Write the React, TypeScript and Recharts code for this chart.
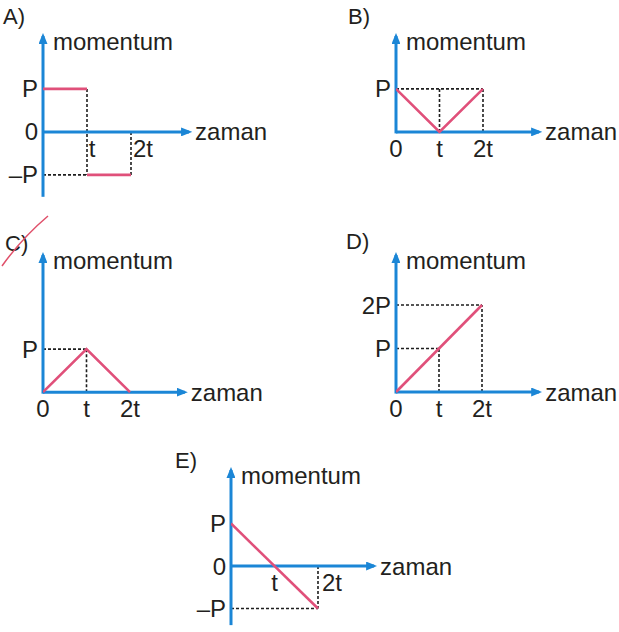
import React from "react";
import { LineChart, Line, XAxis, YAxis, ReferenceLine, ReferenceDot } from "recharts";

type Pt = { x: number; y: number | null };
type Tick = { v: number; label: string; dx?: number };
type Guide = [number, number, number, number];

// time in units of t, momentum in units of P
const seriesA: Pt[] = [{ x: 0, y: 1 }, { x: 1, y: 1 }, { x: 1, y: null }, { x: 1, y: -1 }, { x: 2, y: -1 }];
const seriesB: Pt[] = [{ x: 0, y: 1 }, { x: 1, y: 0 }, { x: 2, y: 1 }];
const seriesC: Pt[] = [{ x: 0, y: 0 }, { x: 1, y: 1 }, { x: 2, y: 0 }];
const seriesD: Pt[] = [{ x: 0, y: 0 }, { x: 1, y: 1 }, { x: 2, y: 2 }];
const seriesE: Pt[] = [{ x: 0, y: 1 }, { x: 2, y: -1 }];

const yTicksA: Tick[] = [{ v: 1, label: "P" }, { v: 0, label: "0" }, { v: -1, label: "–P" }];
const yTicksB: Tick[] = [{ v: 1, label: "P" }];
const yTicksC: Tick[] = [{ v: 1, label: "P" }];
const yTicksD: Tick[] = [{ v: 2, label: "2P" }, { v: 1, label: "P" }];
const yTicksE: Tick[] = [{ v: 1, label: "P" }, { v: 0, label: "0" }, { v: -1, label: "–P" }];

const xTicksA: Tick[] = [{ v: 1, label: "t", dx: 5 }, { v: 2, label: "2t", dx: 12 }];
const xTicksB: Tick[] = [{ v: 0, label: "0" }, { v: 1, label: "t" }, { v: 2, label: "2t" }];
const xTicksC: Tick[] = [{ v: 0, label: "0" }, { v: 1, label: "t" }, { v: 2, label: "2t" }];
const xTicksD: Tick[] = [{ v: 0, label: "0" }, { v: 1, label: "t" }, { v: 2, label: "2t" }];
const xTicksE: Tick[] = [{ v: 1, label: "t" }, { v: 2, label: "2t", dx: 14 }];

// dashed helper lines: [x1, y1, x2, y2]
const guidesA: Guide[] = [[1, 1, 1, -1], [2, 0, 2, -1], [0, -1, 1, -1]];
const guidesB: Guide[] = [[0, 1, 2, 1], [1, 0, 1, 1], [2, 0, 2, 1]];
const guidesC: Guide[] = [[0, 1, 1, 1], [1, 0, 1, 1]];
const guidesD: Guide[] = [[0, 2, 2, 2], [0, 1, 1, 1], [1, 0, 1, 1], [2, 0, 2, 2]];
const guidesE: Guide[] = [[2, 0, 2, -1], [0, -1, 2, -1]];

const BLUE = "#1b86d6";
const RED = "#e0507a";
const INK = "#231f20";
const FONT = "'Liberation Sans', Arial, sans-serif";
const PAD = { top: 20, right: 90, bottom: 32, left: 50 };

type Box = { ox: number; oy: number; ux: number; uy: number; xMax: number; yMin: number; yMax: number; nx: number; ny: number };

const textStyle = { fontSize: 24, fill: INK, fontFamily: FONT };

function Panel(props: { id: string; name: string; data: Pt[]; xTicks: Tick[]; yTicks: Tick[]; guides: Guide[]; box: Box }) {
  const { id, name, data, xTicks, yTicks, guides, box } = props;
  const plotW = box.xMax * box.ux;
  const plotH = (box.yMax - box.yMin) * box.uy;
  const left = box.ox - PAD.left;
  const top = box.oy - box.yMax * box.uy - PAD.top;
  const axisShape = (p: any) => (
    <line x1={p.x1} y1={p.y1} x2={p.x2} y2={p.y2} stroke={BLUE} strokeWidth={3} markerEnd={`url(#arrow-${id})`} />
  );
  return (
    <>
      <div style={{ position: "absolute", left: box.nx, top: box.ny, fontSize: 22, lineHeight: "22px", color: INK }}>{name}</div>
      <div style={{ position: "absolute", left, top }}>
        <LineChart width={PAD.left + plotW + PAD.right} height={PAD.top + plotH + PAD.bottom} data={data} margin={PAD}>
          <defs>
            <marker id={`arrow-${id}`} viewBox="0 0 11 9" markerUnits="userSpaceOnUse" markerWidth={11} markerHeight={9} refX={8} refY={4.5} orient="auto">
              <path d="M0,0 L11,4.5 L0,9 z" fill={BLUE} />
            </marker>
          </defs>
          <XAxis type="number" dataKey="x" domain={[0, box.xMax]} hide allowDataOverflow />
          <YAxis type="number" domain={[box.yMin, box.yMax]} hide allowDataOverflow />
          {guides.map((g, i) => (
            <ReferenceLine
              key={`g${i}`}
              segment={[{ x: g[0], y: g[1] }, { x: g[2], y: g[3] }]}
              stroke="#1e1e1e"
              strokeWidth={1.6}
              strokeDasharray="3 2"
              ifOverflow="visible"
            />
          ))}
          <ReferenceLine segment={[{ x: 0, y: box.yMin }, { x: 0, y: box.yMax }]} shape={axisShape} ifOverflow="visible" />
          <ReferenceLine segment={[{ x: 0, y: 0 }, { x: box.xMax, y: 0 }]} shape={axisShape} ifOverflow="visible" />
          <Line type="linear" dataKey="y" stroke={RED} strokeWidth={2.6} dot={false} connectNulls={false} isAnimationActive={false} />
          {yTicks.map((t) => (
            <ReferenceDot key={`y${t.v}`} x={0} y={t.v} r={0} fill="none" stroke="none" ifOverflow="visible"
              label={{ value: t.label, position: "left", offset: 5, ...textStyle }} />
          ))}
          {xTicks.map((t) => (
            <ReferenceDot key={`x${t.v}`} x={t.v} y={0} r={0} fill="none" stroke="none" ifOverflow="visible"
              label={{ value: t.label, position: "bottom", offset: 8, dx: t.dx ?? 0, ...textStyle }} />
          ))}
          <ReferenceDot x={0} y={box.yMax} r={0} fill="none" stroke="none" ifOverflow="visible"
            label={{ value: "momentum", position: "right", offset: 10, dy: 5, ...textStyle }} />
          <ReferenceDot x={box.xMax} y={0} r={0} fill="none" stroke="none" ifOverflow="visible"
            label={{ value: "zaman", position: "right", offset: 6, ...textStyle }} />
        </LineChart>
      </div>
    </>
  );
}

export default function App() {
  return (
    <div style={{ position: "absolute", left: 0, top: 0, width: 619, height: 632, background: "#fff", overflow: "hidden", fontFamily: FONT }}>
      <Panel id="a" name="A)" data={seriesA} xTicks={xTicksA} yTicks={yTicksA} guides={guidesA}
        box={{ ox: 43, oy: 132, ux: 44, uy: 43, xMax: 3.32, yMin: -1.51, yMax: 2.23, nx: 3, ny: 6 }} />
      <Panel id="b" name="B)" data={seriesB} xTicks={xTicksB} yTicks={yTicksB} guides={guidesB}
        box={{ ox: 396, oy: 132, ux: 43.5, uy: 43, xMax: 3.29, yMin: -0.035, yMax: 2.23, nx: 348, ny: 6 }} />
      <Panel id="c" name="C)" data={seriesC} xTicks={xTicksC} yTicks={yTicksC} guides={guidesC}
        box={{ ox: 43, oy: 392, ux: 43.5, uy: 43, xMax: 3.26, yMin: -0.035, yMax: 3.19, nx: 5, ny: 233 }} />
      <Panel id="d" name="D)" data={seriesD} xTicks={xTicksD} yTicks={yTicksD} guides={guidesD}
        box={{ ox: 396, oy: 392, ux: 43, uy: 43.5, xMax: 3.33, yMin: -0.035, yMax: 3.15, nx: 346, ny: 231 }} />
      <Panel id="e" name="E)" data={seriesE} xTicks={xTicksE} yTicks={yTicksE} guides={guidesE}
        box={{ ox: 231, oy: 566, ux: 43.5, uy: 42.5, xMax: 3.29, yMin: -1.39, yMax: 2.26, nx: 175, ny: 450 }} />
      <svg width={60} height={60} style={{ position: "absolute", left: 0, top: 212 }}>
        <path d="M2 54 Q 22 26 48 4" stroke="#e0506a" strokeWidth={1.5} fill="none" />
      </svg>
    </div>
  );
}
